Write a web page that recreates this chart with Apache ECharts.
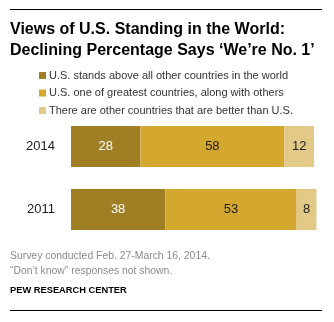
<!DOCTYPE html>
<html>
<head>
<meta charset="utf-8">
<script src="https://cdn.jsdelivr.net/npm/echarts@6/dist/echarts.min.js"></script>
<style>
  html, body { margin: 0; padding: 0; background: #fff; }
  #chart { width: 334px; height: 322px; }
</style>
</head>
<body>
<div id="chart"></div>
<script>
// Survey years, top to bottom
const years = ['2014', '2011'];
// Response shares (%) per year
const aboveAll = [28, 38];
const oneOfGreatest = [58, 53];
const othersBetter = [12, 8];

const seriesNames = [
  'U.S. stands above all other countries in the world',
  'U.S. one of greatest countries, along with others',
  'There are other countries that are better than U.S.'
];
const colors = ['#A07E24', '#D4A72F', '#E3C987'];
const labelColors = ['#ffffff', '#222222', '#222222'];
const values = [aboveAll, oneOfGreatest, othersBetter];

const font = '"Liberation Sans", Arial, sans-serif';

const chart = echarts.init(document.getElementById('chart'), null, { renderer: 'canvas' });

chart.setOption({
  animation: false,
  color: colors,
  grid: { left: 71, right: 15, top: 115, bottom: 81, containLabel: false },
  xAxis: { type: 'value', min: 0, max: 100, show: false },
  yAxis: {
    type: 'category',
    data: years,
    inverse: true,
    axisLine: { show: false },
    axisTick: { show: false },
    axisLabel: { color: '#222', fontSize: 13, fontFamily: font, margin: 16 }
  },
  legend: {
    orient: 'vertical',
    left: 34,
    top: 65,
    itemWidth: 7,
    itemHeight: 7,
    itemGap: 6.5,
    icon: 'rect',
    selectedMode: false,
    textStyle: { color: '#333', fontSize: 11, fontFamily: font, padding: [0, 0, 0, -2] },
    data: seriesNames
  },
  series: seriesNames.map((name, i) => ({
    name: name,
    type: 'bar',
    stack: 'total',
    barWidth: 41,
    data: values[i],
    itemStyle: { color: colors[i] },
    label: {
      show: true,
      position: 'inside',
      color: labelColors[i],
      fontSize: 13,
      fontFamily: font
    }
  })),
  graphic: [
    { type: 'line', shape: { x1: 10, y1: 9.5, x2: 322, y2: 9.5 }, style: { stroke: '#000', lineWidth: 1 } },
    { type: 'text', left: 10, top: 22, style: { text: 'Views of U.S. Standing in the World:', fill: '#000', font: 'bold 16px ' + font } },
    { type: 'text', left: 10, top: 43, style: { text: 'Declining Percentage Says ‘We’re No. 1’', fill: '#000', font: 'bold 16px ' + font } },
    { type: 'text', left: 10, top: 251, style: { text: 'Survey conducted Feb. 27-March 16, 2014.', fill: '#8a8a8a', font: '10.4px ' + font } },
    { type: 'text', left: 10, top: 266, style: { text: '“Don’t know” responses not shown.', fill: '#8a8a8a', font: '10.4px ' + font } },
    { type: 'text', left: 10, top: 286, style: { text: 'PEW RESEARCH CENTER', fill: '#000', font: 'bold 9.3px ' + font } },
    { type: 'line', shape: { x1: 10, y1: 310.5, x2: 322, y2: 310.5 }, style: { stroke: '#000', lineWidth: 1 } }
  ]
});
</script>
</body>
</html>
